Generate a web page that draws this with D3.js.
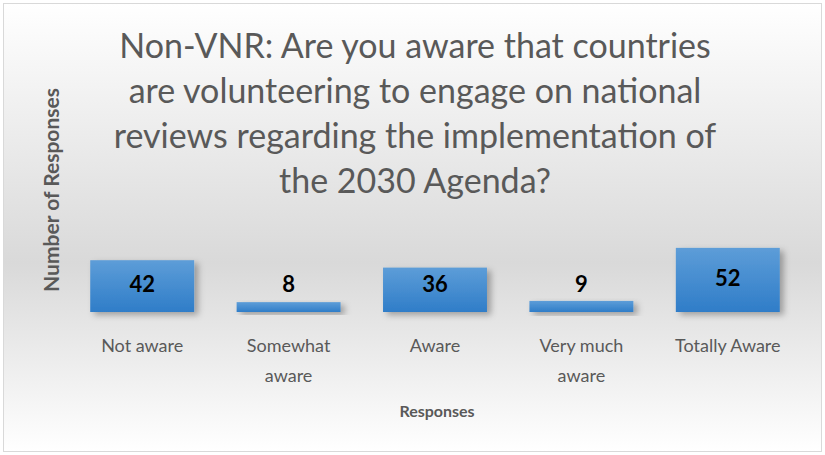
<!DOCTYPE html>
<html>
<head>
  <meta http-equiv="Content-Type" content="text/html;charset=utf-8">
  <title>Non-VNR awareness</title>
  <script src="https://d3js.org/d3.v7.min.js"></script>
  <style>
    html, body { margin: 0; padding: 0; background: #fff; }
    text { font-family: Lato, "Open Sans", sans-serif; }
  </style>
</head>
<body>
<script>
  var categories = [["Not aware"], ["Somewhat", "aware"], ["Aware"], ["Very much", "aware"], ["Totally Aware"]];
  var values = [42, 8, 36, 9, 52];
  var titleLines = ["Non-VNR: Are you aware that countries", "are volunteering to engage on national",
    "reviews regarding the implementation of", "the 2030 Agenda?"];

  var W = 825, H = 455;
  var svg = d3.select("body").append("svg").attr("width", W).attr("height", H);
  var defs = svg.append("defs");

  var bg = defs.append("linearGradient").attr("id", "bg").attr("x1", 0).attr("y1", 0).attr("x2", 0).attr("y2", 1);
  bg.append("stop").attr("offset", "0%").attr("stop-color", "#ffffff");
  bg.append("stop").attr("offset", "58%").attr("stop-color", "#d9d9d9");
  bg.append("stop").attr("offset", "100%").attr("stop-color", "#ffffff");

  var bar = defs.append("linearGradient").attr("id", "bar").attr("x1", 0).attr("y1", 0).attr("x2", 0).attr("y2", 1);
  bar.append("stop").attr("offset", "0%").attr("stop-color", "#5d9dd8");
  bar.append("stop").attr("offset", "100%").attr("stop-color", "#2f7dc8");

  var shadow = defs.append("filter").attr("id", "shadow").attr("x", "-20%").attr("y", "-20%").attr("width", "150%").attr("height", "150%");
  shadow.append("feDropShadow").attr("dx", 4).attr("dy", 3).attr("stdDeviation", 3)
    .attr("flood-color", "#000").attr("flood-opacity", 0.3);

  svg.append("rect").attr("x", 3.5).attr("y", 3.5).attr("width", 818).attr("height", 448)
    .attr("fill", "url(#bg)").attr("stroke", "#d9d9d9").attr("stroke-width", 1);

  // title
  svg.append("g").selectAll("text").data(titleLines).join("text")
    .attr("x", 415).attr("y", function (d, i) { return 58 + i * 45; })
    .attr("text-anchor", "middle").attr("fill", "#595959")
    .style("font-size", "34px").text(function (d) { return d; });

  var x = d3.scaleBand().domain(d3.range(values.length)).range([69, 801]).paddingInner(0.29).paddingOuter(0.145);
  var y = d3.scaleLinear().domain([0, 60]).range([312, 238]);

  svg.append("g").selectAll("rect").data(values).join("rect")
    .attr("x", function (d, i) { return x(i); })
    .attr("y", function (d) { return y(d); })
    .attr("width", x.bandwidth())
    .attr("height", function (d) { return y(0) - y(d); })
    .attr("fill", "url(#bar)")
    .attr("filter", "url(#shadow)");

  svg.append("g").selectAll("text").data(values).join("text")
    .attr("x", function (d, i) { return x(i) + x.bandwidth() / 2; })
    .attr("y", function (d) { return Math.min((y(d) + y(0)) / 2 - 2, y(0) - 28); })
    .attr("dy", "0.35em")
    .attr("text-anchor", "middle").attr("fill", "#000")
    .style("font-size", "22px").style("font-weight", "bold")
    .text(function (d) { return d; });

  // category labels
  var cat = svg.append("g").selectAll("text").data(categories).join("text")
    .attr("x", function (d, i) { return x(i) + x.bandwidth() / 2; })
    .attr("y", 352)
    .attr("text-anchor", "middle").attr("fill", "#595959")
    .style("font-size", "18px");
  cat.selectAll("tspan").data(function (d) { return d; }).join("tspan")
    .attr("x", function () { return d3.select(this.parentNode).attr("x"); })
    .attr("dy", function (d, i) { return i === 0 ? 0 : 30; })
    .text(function (d) { return d; });

  svg.append("text").attr("x", 437).attr("y", 417).attr("text-anchor", "middle")
    .attr("fill", "#595959").style("font-size", "16px").style("font-weight", "bold")
    .text("Responses");

  svg.append("text").attr("transform", "translate(59,190) rotate(-90)").attr("text-anchor", "middle")
    .attr("fill", "#595959").style("font-size", "21px").style("font-weight", "bold")
    .text("Number of Responses");
</script>
</body>
</html>
